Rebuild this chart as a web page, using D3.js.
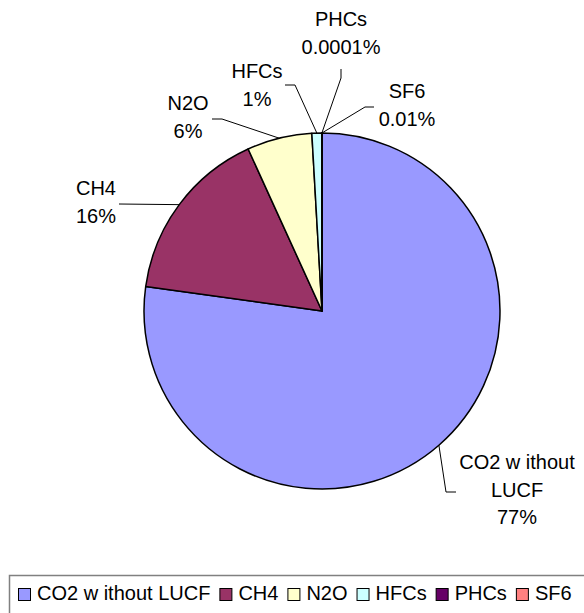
<!DOCTYPE html>
<html>
<head>
<meta charset="utf-8">
<script src="https://cdn.jsdelivr.net/npm/d3@7"></script>
<style>
  html, body { margin: 0; padding: 0; background: #fff; }
  svg { display: block; }
  text { font-family: "Liberation Sans", Arial, sans-serif; font-size: 20px; fill: #000; }
</style>
</head>
<body>
<svg id="chart" width="584" height="613"></svg>
<script>
// ---- data ----
const categories = ["CO2 w ithout LUCF", "CH4", "N2O", "HFCs", "PHCs", "SF6"];
const shares = [77.2, 16.0, 5.9, 0.9, 0.0001, 0.01];
const shareLabels = ["77%", "16%", "6%", "1%", "0.0001%", "0.01%"];
const nameLines = [["CO2 w ithout", "LUCF"], ["CH4"], ["N2O"], ["HFCs"], ["PHCs"], ["SF6"]];
const colors = ["#9999FF", "#993366", "#FFFFCC", "#CCFFFF", "#660066", "#FF8080"];

// ---- layout ----
const cx = 322, cy = 311, R = 178;
const lineH = 27.5;
// leader elbow points and text anchor (center x, first baseline y)
const labelLayout = [
  { path: [[446, 492], [456, 492]], tx: 517, ty: 469 },
  { path: [[119, 204]], tx: 96, ty: 195 },
  { path: [[222, 119], [212, 119]], tx: 188, ty: 110 },
  { path: [[295, 85], [285, 85]], tx: 257, ty: 78 },
  { path: [[341, 78], [341, 69]], tx: 341, ty: 26 },
  { path: [[365, 107], [374, 107]], tx: 407, ty: 98 }
];

const svg = d3.select("#chart");
const color = d3.scaleOrdinal().domain(categories).range(colors);

const pie = d3.pie().sort(null).value(d => d.v).startAngle(0).endAngle(2 * Math.PI);
const arcs = pie(categories.map((c, i) => ({ c, v: shares[i], i })));
const arc = d3.arc().innerRadius(0).outerRadius(R);

const g = svg.append("g").attr("transform", `translate(${cx},${cy})`);
g.selectAll("path.slice")
  .data(arcs)
  .join("path")
  .attr("class", "slice")
  .attr("d", arc)
  .attr("fill", d => color(d.data.c))
  .attr("stroke", "#000")
  .attr("stroke-width", 1.5)
  .attr("stroke-linejoin", "round");

// leader lines
const line = d3.line();
arcs.forEach((d, i) => {
  const a = (d.startAngle + d.endAngle) / 2;
  const start = [cx + R * Math.sin(a), cy - R * Math.cos(a)];
  const L = labelLayout[i];
  svg.append("path")
    .attr("d", line([start, ...L.path]))
    .attr("fill", "none")
    .attr("stroke", "#000")
    .attr("stroke-width", 1);
  const lines = [...nameLines[i], shareLabels[i]];
  const t = svg.append("text").attr("text-anchor", "middle");
  lines.forEach((s, k) => {
    t.append("tspan").attr("x", L.tx).attr("y", L.ty + k * lineH).text(s);
  });
});

// legend
const legend = svg.append("g");
legend.append("rect")
  .attr("x", 9.5).attr("y", 575.5)
  .attr("width", 620).attr("height", 80)
  .attr("fill", "#fff")
  .attr("stroke", "#808080")
  .attr("stroke-width", 1.5);

let x = 18;
categories.forEach((c, i) => {
  legend.append("rect")
    .attr("x", x + 0.5).attr("y", 588.5)
    .attr("width", 12).attr("height", 12)
    .attr("fill", color(c))
    .attr("stroke", "#000")
    .attr("stroke-width", 1);
  const t = legend.append("text")
    .attr("x", x + 19).attr("y", 600)
    .text(c);
  const w = t.node().getComputedTextLength();
  x = x + 19 + w + 9;
});
</script>
</body>
</html>
